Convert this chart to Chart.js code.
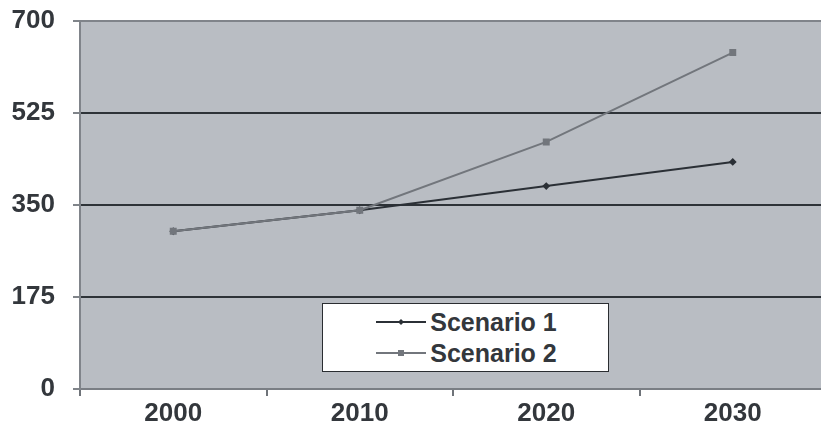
<!DOCTYPE html>
<html>
<head>
<meta charset="utf-8">
<script src="https://cdn.jsdelivr.net/npm/chart.js@4/dist/chart.umd.min.js"></script>
<style>
  html, body { margin: 0; padding: 0; background: #ffffff; overflow: hidden; width: 821px; height: 432px; }
  #wrap { position: relative; width: 832px; height: 432px; }
  canvas { display: block; }
  #legend {
    position: absolute; left: 322px; top: 303px; width: 285px; height: 67px;
    background: #ffffff; border: 1.5px solid #2a2d31;
    font-family: "Liberation Sans", Arial, sans-serif; font-weight: bold; font-size: 25px; color: #33373c;
    display: flex; flex-direction: column; justify-content: center; align-items: center;
  }
  .item { display: flex; align-items: center; height: 31px; margin-left: 2px; }
  .sample { position: relative; width: 50px; height: 12px; margin-right: 4px; }
  .sample .ln { position: absolute; left: 0; right: 0; top: 5px; height: 2px; }
  .sample .mk { position: absolute; left: 22px; top: 3px; width: 6px; height: 6px; }
</style>
</head>
<body>
<div id="wrap">
  <canvas id="c" width="832" height="432"></canvas>
  <div id="legend"></div>
</div>
<script>
const categories = ['2000', '2010', '2020', '2030'];
const scenario1 = [300, 340, 386, 432];
const scenario2 = [300, 340, 470, 640];
const yTicks = [0, 175, 350, 525, 700];
const seriesNames = ['Scenario 1', 'Scenario 2'];
const seriesColors = ['#2b3036', '#72767c'];

const bgPlugin = {
  id: 'plotBg',
  beforeDraw(chart) {
    const { ctx, chartArea: a } = chart;
    ctx.save();
    ctx.fillStyle = '#b9bdc3';
    ctx.fillRect(a.left, a.top, a.right - a.left, a.bottom - a.top);
    ctx.restore();
  }
};

const chart = new Chart(document.getElementById('c'), {
  type: 'line',
  data: {
    labels: categories,
    datasets: [
      {
        label: seriesNames[0], data: scenario1, borderColor: seriesColors[0], backgroundColor: seriesColors[0],
        borderWidth: 2, pointStyle: 'rectRot', pointRadius: 2.5, tension: 0, order: 1
      },
      {
        label: seriesNames[1], data: scenario2, borderColor: seriesColors[1], backgroundColor: seriesColors[1],
        borderWidth: 2, pointStyle: 'rect', pointRadius: 3.5, tension: 0, order: 0
      }
    ]
  },
  options: {
    responsive: false,
    animation: false,
    layout: { padding: { top: 21, right: 0, left: 0, bottom: 0 } },
    plugins: { legend: { display: false }, tooltip: { enabled: false } },
    scales: {
      x: {
        offset: true,
        grid: { offset: true, drawOnChartArea: false, drawTicks: true, tickLength: 7, color: '#6f7379', lineWidth: 2 },
        border: { color: '#7a7e84', width: 2 },
        ticks: { color: '#33373c', padding: 2, font: { family: 'Liberation Sans', weight: 'bold', size: 26 } },
        afterFit(s) { s.height = 43; s.paddingLeft = 0; s.paddingRight = 0; }
      },
      y: {
        min: 0, max: 700,
        afterBuildTicks(s) { s.ticks = yTicks.map(v => ({ value: v })); },
        grid: {
          tickLength: 7, lineWidth: 2,
          color(c) {
            const v = c.tick && c.tick.value;
            if (v === 700) return '#80848a';
            if (v === 0) return '#80848a';
            return '#2e3338';
          },
          tickColor: '#80848a'
        },
        border: { color: '#80848a', width: 2 },
        ticks: { color: '#33373c', padding: 18, font: { family: 'Liberation Sans', weight: 'bold', size: 26 } },
        afterFit(s) { s.width = 80; s.paddingTop = 0; s.paddingBottom = 0; }
      }
    }
  },
  plugins: [bgPlugin]
});

const legend = document.getElementById('legend');
chart.data.datasets.forEach((ds, i) => {
  const item = document.createElement('div');
  item.className = 'item';
  const sample = document.createElement('div');
  sample.className = 'sample';
  const ln = document.createElement('div');
  ln.className = 'ln';
  ln.style.background = ds.borderColor;
  const mk = document.createElement('div');
  mk.className = 'mk';
  mk.style.background = ds.borderColor;
  if (i === 0) { mk.style.transform = 'rotate(45deg) scale(0.7)'; }
  sample.appendChild(ln); sample.appendChild(mk);
  const txt = document.createElement('span');
  txt.textContent = ds.label;
  item.appendChild(sample); item.appendChild(txt);
  legend.appendChild(item);
});
</script>
</body>
</html>
